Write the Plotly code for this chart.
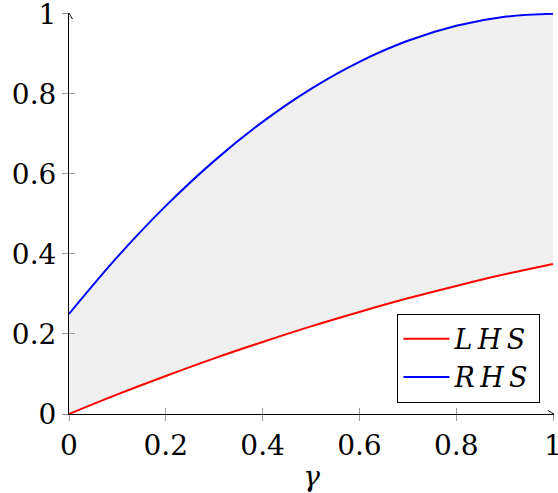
import plotly.graph_objects as go

gamma = [0.0, 0.1, 0.2, 0.3, 0.4, 0.5, 0.6, 0.7, 0.8, 0.9, 1.0]
lhs = [0.0, 0.049, 0.095, 0.139, 0.180, 0.219, 0.255, 0.289, 0.320, 0.349, 0.375]
rhs = [0.25, 0.3925, 0.52, 0.6325, 0.73, 0.8125, 0.88, 0.9325, 0.97, 0.9925, 1.0]
tick_vals = [0, 0.2, 0.4, 0.6, 0.8, 1]
tick_text = ["0", "0.2", "0.4", "0.6", "0.8", "1"]
series_names = ["L\u2009H\u2009S", "R\u2009H\u2009S"]

SERIF = "DejaVu Serif"
RANGE = [0, 1.002]
fig = go.Figure()

# shaded region between the two curves
fig.add_trace(go.Scatter(x=gamma, y=lhs, mode="lines", line=dict(width=0, shape="spline"),
                         showlegend=False, hoverinfo="skip"))
fig.add_trace(go.Scatter(x=gamma, y=rhs, mode="lines", line=dict(width=0, shape="spline"),
                         fill="tonexty", fillcolor="rgb(240,240,240)",
                         showlegend=False, hoverinfo="skip"))

fig.add_trace(go.Scatter(x=gamma, y=lhs, mode="lines", name="<i>%s</i>\u2009" % series_names[0],
                         line=dict(color="red", width=2, shape="spline")))
fig.add_trace(go.Scatter(x=gamma, y=rhs, mode="lines", name="<i>%s</i>\u2009" % series_names[1],
                         line=dict(color="blue", width=2, shape="spline")))

# invisible trace on secondary axes for crossing ticks
fig.add_trace(go.Scatter(x=[0], y=[0], xaxis="x2", yaxis="y2", mode="markers",
                         marker=dict(opacity=0), showlegend=False, hoverinfo="skip"))

axis_common = dict(range=RANGE, tickvals=tick_vals, ticktext=tick_text,
                   showgrid=False, zeroline=False, showline=True, automargin=False,
                   linecolor="black", linewidth=1, ticklabeloverflow="allow",
                   tickfont=dict(family=SERIF, size=28, color="black"),
                   ticks="outside", ticklen=6, tickcolor="#999999", tickwidth=1)

fig.update_layout(
    width=558, height=493,
    margin=dict(l=68.5, r=4, t=13.3, b=78.7),
    plot_bgcolor="white", paper_bgcolor="white",
    xaxis=dict(**axis_common,
               title=dict(text="<i>γ</i>", font=dict(family=SERIF, size=28, color="black"),
                          standoff=8)),
    yaxis=dict(**axis_common),
    xaxis2=dict(range=RANGE, overlaying="x", side="bottom", tickvals=tick_vals,
                showticklabels=False, ticks="inside", ticklen=6, tickcolor="#999999",
                showgrid=False, zeroline=False, showline=False, anchor="y", automargin=False),
    yaxis2=dict(range=RANGE, overlaying="y", side="left", tickvals=tick_vals,
                showticklabels=False, ticks="inside", ticklen=6, tickcolor="#999999",
                showgrid=False, zeroline=False, showline=False, anchor="x", automargin=False),
    legend=dict(x=0.972, y=0.028, xanchor="right", yanchor="bottom",
                bordercolor="black", borderwidth=1, bgcolor="white",
                font=dict(family=SERIF, size=27, color="black"),
                itemwidth=46,
                traceorder="normal", tracegroupgap=0),
    showlegend=True,
)

# arrow heads at the axis ends
fig.add_shape(type="path", xref="x", yref="y", xsizemode="pixel", ysizemode="pixel",
              xanchor=0, yanchor=RANGE[1], path="M -3.5 -6 Q -1 -2 0 0 Q 1 -2 3.5 -6",
              line=dict(color="black", width=1))
fig.add_shape(type="path", xref="x", yref="y", xsizemode="pixel", ysizemode="pixel",
              xanchor=RANGE[1], yanchor=0, path="M -6 -3.5 Q -2 -1 0 0 Q -2 1 -6 3.5",
              line=dict(color="black", width=1))

fig.write_html("out.html", config={"displayModeBar": False},
               post_script="document.body.style.margin='0';")
